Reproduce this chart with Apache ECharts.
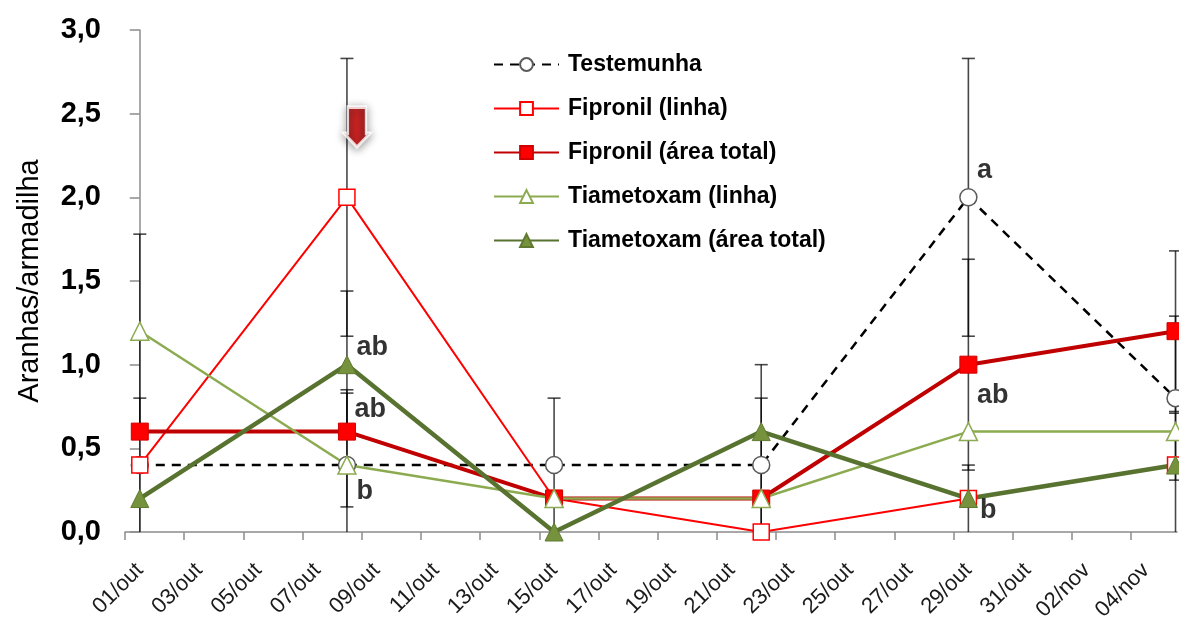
<!DOCTYPE html>
<html>
<head>
<meta charset="utf-8">
<script src="https://cdn.jsdelivr.net/npm/echarts@6/dist/echarts.min.js"></script>
<style>html,body{margin:0;padding:0;background:#fff;}#c{width:1179px;height:624px;}</style>
</head>
<body>
<div id="c"></div>
<script>
// ---- data ----
const sampleDates = ['01/out', '08/out', '15/out', '22/out', '29/out', '05/nov'];
const testemunha = [0.4, 0.4, 0.4, 0.4, 2.0, 0.8];
const fipronilLinha = [0.4, 2.0, 0.2, 0.0, 0.2, 0.4];
const fipronilArea = [0.6, 0.6, 0.2, 0.2, 1.0, 1.2];
const tiametoxamLinha = [1.2, 0.4, 0.2, 0.2, 0.6, 0.6];
const tiametoxamArea = [0.2, 1.0, 0.0, 0.6, 0.2, 0.4];

const errDates = ['01/out','01/out','08/out','08/out','08/out','08/out','15/out','22/out','22/out','29/out','29/out','29/out','05/nov','05/nov','05/nov'];
const errLow  = [0.62, 0, 1.17, 0.56, 0.15, 0, 0, 0, 0, 1.17, 0.37, 0, 0.72, 0.31, 0];
const errHigh = [1.78, 0.8, 2.83, 1.44, 0.85, 0.83, 0.8, 1.0, 0.8, 2.83, 1.63, 0.4, 1.68, 1.29, 0.71];

const annDates = ['08/out', '08/out', '08/out', '29/out', '29/out', '29/out'];
const annValues = [1.0, 0.6, 0.4, 2.0, 1.0, 0.2];
const annTexts = ['ab', 'ab', 'b', 'a', 'ab', 'b'];

const arrowDate = '08/out';
const arrowValue = 2.42;

const xTickLabels = ['01/out','03/out','05/out','07/out','09/out','11/out','13/out','15/out','17/out','19/out','21/out','23/out','25/out','27/out','29/out','31/out','02/nov','04/nov'];

// ---- helpers ----
const monthIdx = { set: 8, out: 9, nov: 10 };
function dayOf(s) {
  const [d, m] = s.split('/');
  return (Date.UTC(2012, monthIdx[m], +d) - Date.UTC(2012, 9, 1)) / 86400000;
}
const labelByDay = {};
xTickLabels.forEach(l => { labelByDay[dayOf(l)] = l; });
function pairs(vals) { return sampleDates.map((d, i) => [dayOf(d), vals[i]]); }

// ---- styles (not data) ----
const FONT = 'Liberation Sans, Arial, sans-serif';
const annOffsets = [[10, -17], [8, -22], [10, 27], [9, -26], [9, 31], [12, 13]];

const chart = echarts.init(document.getElementById('c'), null, { renderer: 'canvas' });

const option = {
  animation: false,
  backgroundColor: '#fff',
  grid: { left: 125, top: 30, width: 1052, height: 502, containLabel: false },
  legend: {
    orient: 'vertical',
    left: 493,
    top: 53,
    padding: 0,
    itemWidth: 65,
    itemHeight: 16,
    itemGap: 21,
    data: ['Testemunha', 'Fipronil (linha)', 'Fipronil (área total)', 'Tiametoxam (linha)', 'Tiametoxam (área total)'],
    textStyle: { fontFamily: FONT, fontSize: 23, fontWeight: 'bold', color: '#000', lineHeight: 21, padding: [0, 0, 0, 4] }
  },
  xAxis: {
    type: 'value',
    min: -0.5,
    max: 35.05,
    interval: 2,
    splitLine: { show: false },
    axisLine: { show: true, lineStyle: { color: '#8c8c8c', width: 1.5 } },
    axisTick: { show: true, length: 8, customValues: xTickLabels.map(l => dayOf(l) - 0.5), lineStyle: { color: '#8c8c8c', width: 1.5 } },
    axisLabel: {
      customValues: xTickLabels.map(dayOf),
      formatter: v => labelByDay[Math.round(v)] || '',
      rotate: 45,
      margin: 35,
      fontFamily: FONT,
      fontSize: 22,
      color: '#1a1a1a'
    }
  },
  yAxis: {
    type: 'value',
    min: 0,
    max: 3,
    interval: 0.5,
    name: 'Aranhas/armadilha',
    nameLocation: 'middle',
    nameGap: 81,
    nameTextStyle: { fontFamily: FONT, fontSize: 29, color: '#000' },
    splitLine: { show: false },
    axisLine: { show: true, lineStyle: { color: '#8c8c8c', width: 1.5 } },
    axisTick: { show: true, inside: false, length: 10, lineStyle: { color: '#8c8c8c', width: 1.5 } },
    axisLabel: {
      formatter: v => v.toFixed(1).replace('.', ','),
      fontFamily: FONT, fontSize: 29, fontWeight: 'bold', color: '#000', margin: 24
    }
  },
  series: [
    {
      name: 'errors', type: 'custom', z: 1, silent: true,
      data: errDates.map((d, i) => [dayOf(d), errLow[i], errHigh[i]]),
      encode: { x: 0, y: [1, 2] },
      clip: false,
      renderItem: function (params, api) {
        const x = api.value(0);
        const lo = api.coord([x, api.value(1)]);
        const hi = api.coord([x, api.value(2)]);
        const cw = 6.5;
        const st = { stroke: 'rgba(0,0,0,0.72)', lineWidth: 1.6 };
        const children = [
          { type: 'line', shape: { x1: lo[0], y1: lo[1], x2: hi[0], y2: hi[1] }, style: st },
          { type: 'line', shape: { x1: hi[0] - cw, y1: hi[1], x2: hi[0] + cw, y2: hi[1] }, style: st }
        ];
        if (api.value(1) > 0) {
          children.push({ type: 'line', shape: { x1: lo[0] - cw, y1: lo[1], x2: lo[0] + cw, y2: lo[1] }, style: st });
        }
        return { type: 'group', children: children };
      }
    },
    {
      name: 'Testemunha', type: 'line', z: 2, data: pairs(testemunha), clip: false,
      symbol: 'circle', symbolSize: 17,
      lineStyle: { color: '#000', width: 2.5, type: [9, 7] },
      itemStyle: { color: '#fff', borderColor: '#5a5a5a', borderWidth: 1.5 }
    },
    {
      name: 'Fipronil (linha)', type: 'line', z: 2, data: pairs(fipronilLinha), clip: false,
      symbol: 'rect', symbolSize: 16,
      lineStyle: { color: '#ff0000', width: 2 },
      itemStyle: { color: '#fff', borderColor: '#ff0000', borderWidth: 1.5 }
    },
    {
      name: 'Fipronil (área total)', type: 'line', z: 2, data: pairs(fipronilArea), clip: false,
      symbol: 'rect', symbolSize: 17,
      lineStyle: { color: '#c00000', width: 4 },
      itemStyle: { color: '#ff0000', borderColor: '#d00000', borderWidth: 1 }
    },
    {
      name: 'Tiametoxam (linha)', type: 'line', z: 2, data: pairs(tiametoxamLinha), clip: false,
      symbol: 'triangle', symbolSize: 18,
      lineStyle: { color: '#8cab50', width: 2.5 },
      itemStyle: { color: '#fff', borderColor: '#8cab50', borderWidth: 1.5 }
    },
    {
      name: 'Tiametoxam (área total)', type: 'line', z: 2, data: pairs(tiametoxamArea), clip: false,
      symbol: 'triangle', symbolSize: 18,
      lineStyle: { color: '#587230', width: 4.5 },
      itemStyle: { color: '#76923c', borderColor: '#5f7a30', borderWidth: 1 }
    },
    {
      name: 'annotations', type: 'scatter', z: 5, silent: true, clip: false,
      symbolSize: 1, itemStyle: { color: 'rgba(0,0,0,0)' },
      data: annDates.map((d, i) => ({
        value: [dayOf(d), annValues[i]],
        label: {
          show: true, formatter: annTexts[i], position: annOffsets[i],
          align: 'left', verticalAlign: 'middle',
          fontFamily: FONT, fontSize: 27, fontWeight: 'bold', color: '#000'
        }
      }))
    },
    {
      name: 'arrow', type: 'scatter', z: 6, silent: true, clip: false,
      data: [[dayOf(arrowDate), arrowValue]],
      symbol: 'path://M15,0 L85,0 L85,66 L100,66 L50,100 L0,66 L15,66 Z',
      symbolSize: [26, 40],
      symbolOffset: [10, 0],
      itemStyle: {
        color: new echarts.graphic.LinearGradient(0, 0, 1, 0, [
          { offset: 0, color: '#8a0000' }, { offset: 0.5, color: '#d40000' }, { offset: 1, color: '#7a0000' }
        ]),
        borderColor: '#fff', borderWidth: 3,
        shadowBlur: 8, shadowColor: 'rgba(0,0,0,0.45)', shadowOffsetY: 2
      }
    }
  ]
};
chart.setOption(option);
</script>
</body>
</html>
